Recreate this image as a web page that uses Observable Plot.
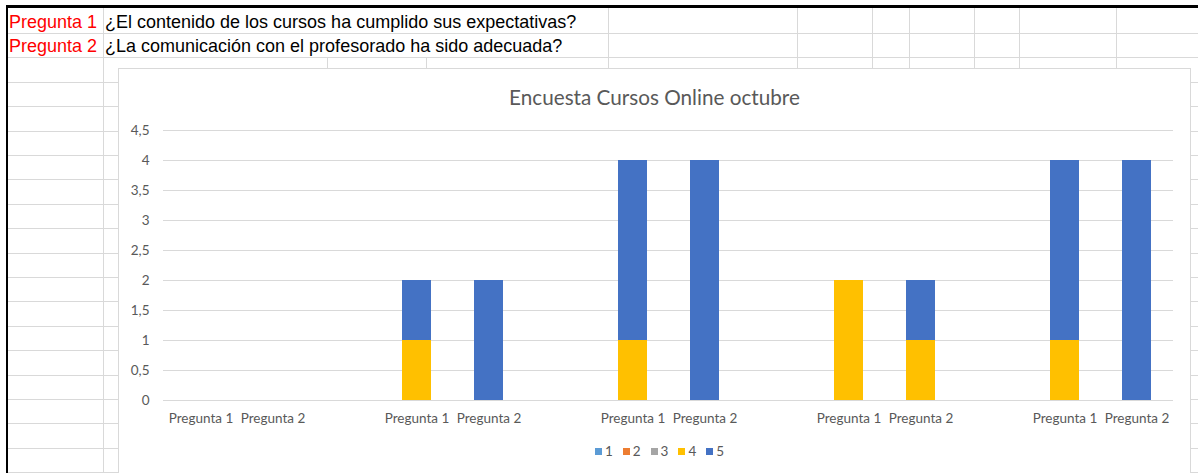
<!DOCTYPE html>
<html>
<head>
<meta charset="utf-8">
<script src="https://cdn.jsdelivr.net/npm/d3@7"></script>
<script src="https://cdn.jsdelivr.net/npm/@observablehq/plot@0.6"></script>
<style>
  html, body { margin: 0; padding: 0; background: #fff; width: 1198px; height: 473px; overflow: hidden; position: relative; }
  .gl { position: absolute; background: #d9d9d9; }
  .hdr { position: absolute; font-family: "Liberation Sans", Arial, sans-serif; font-size: 18px; white-space: nowrap; line-height: 1; transform-origin: left top; transform: scaleY(1.06); }
  #box { position: absolute; left: 118px; top: 68px; width: 1073px; height: 420px; background: #fff; border: 1px solid #d9d9d9; box-sizing: border-box; }
  #title { position: absolute; left: 0; width: 100%; top: 16px; text-align: center; font-family: Lato, "Open Sans", sans-serif; font-size: 20.7px; color: #595959; }
  #chart { position: absolute; left: 0; top: 52px; }
  #legend { position: absolute; top: 374px; left: 0; width: 100%; display: flex; justify-content: center; gap: 10px; font-family: Lato, sans-serif; font-size: 13.5px; color: #595959; margin-left: 5px; }
  #legend span.sw { display: inline-block; width: 7px; height: 7px; margin-right: 3px; }
</style>
</head>
<body>
<div id="grid"></div>
<div class="hdr" style="left:9px; top:12px; color:#ff0000;">Pregunta 1</div>
<div class="hdr" style="left:105px; top:12px; color:#000;">¿El contenido de los cursos ha cumplido sus expectativas?</div>
<div class="hdr" style="left:9px; top:36px; color:#ff0000;">Pregunta 2</div>
<div class="hdr" style="left:105px; top:36px; color:#000;">¿La comunicación con el profesorado ha sido adecuada?</div>
<div id="box">
  <div id="title">Encuesta Cursos Online octubre</div>
  <div id="chart"></div>
  <div id="legend"></div>
</div>
<script>
// ---- data ----
const title = "Encuesta Cursos Online octubre";
const groups = ["A", "B", "C", "D", "E"];
const preguntas = ["Pregunta 1", "Pregunta 2"];
const answers = ["1", "2", "3", "4", "5"];
const answerColors = ["#5B9BD5", "#ED7D31", "#A5A5A5", "#FFC000", "#4472C4"];
// values per bar, order: A-P1, A-P2, B-P1, B-P2, ..., E-P2
const ans1 = [0, 0, 0, 0, 0, 0, 0, 0, 0, 0];
const ans2 = [0, 0, 0, 0, 0, 0, 0, 0, 0, 0];
const ans3 = [0, 0, 0, 0, 0, 0, 0, 0, 0, 0];
const ans4 = [0, 0, 1, 0, 1, 0, 2, 1, 1, 0];
const ans5 = [0, 0, 1, 2, 3, 4, 0, 1, 3, 4];
const yTicks = [0, 0.5, 1, 1.5, 2, 2.5, 3, 3.5, 4, 4.5];

// ---- spreadsheet grid background ----
const grid = document.getElementById("grid");
function line(x, y, w, h, color) {
  const d = document.createElement("div");
  d.className = "gl";
  d.style.left = x + "px"; d.style.top = y + "px";
  d.style.width = w + "px"; d.style.height = h + "px";
  if (color) d.style.background = color;
  grid.appendChild(d);
}
for (let k = 0; k < 20; k++) line(8, Math.round(33 + 24.4 * k), 1190, 1);
line(103, 8, 1, 470);
[608, 797, 872, 909, 974, 1019, 1116].forEach(x => line(x, 8, 1, 60));
[327, 426].forEach(x => line(x, 57, 1, 12));
line(6, 5, 1192, 3, "#000");
line(6, 5, 2, 470, "#000");

// ---- build table ----
const keys = [];
groups.forEach((g, gi) => {
  preguntas.forEach((p, pi) => keys.push(g + "|" + pi));
  if (gi < groups.length - 1) keys.push(g + "|gap");
});
const series = [ans1, ans2, ans3, ans4, ans5];
const rows = [];
answers.forEach((a, ai) => {
  let i = 0;
  groups.forEach(g => preguntas.forEach((p, pi) => {
    rows.push({ key: g + "|" + pi, answer: a, value: series[ai][i] });
    i++;
  }));
});
const labelOf = k => { const s = k.split("|")[1]; return s === "gap" ? "" : preguntas[+s]; };
const fmt = d => String(d).replace(".", ",");

const chart = Plot.plot({
  width: 1068,
  height: 314,
  marginLeft: 44,
  marginRight: 14,
  marginTop: 9,
  marginBottom: 35,
  style: { fontFamily: "Lato, 'Open Sans', sans-serif", fontSize: "13.5px", color: "#595959", background: "transparent" },
  x: { domain: keys, paddingInner: 0.6, paddingOuter: 0.3, label: null },
  y: { domain: [0, 4.5], label: null },
  color: { domain: answers, range: answerColors },
  marks: [
    Plot.gridY(yTicks, { stroke: "#d9d9d9", strokeOpacity: 1 }),
    Plot.ruleY([0], { stroke: "#d9d9d9", strokeWidth: 1.2 }),
    Plot.barY(rows, { x: "key", y: "value", fill: "answer", order: answers }),
    Plot.axisY(yTicks, { tickSize: 0, tickPadding: 14, tickFormat: fmt, fill: "#595959", fontSize: 13.5 }),
    Plot.axisX({ tickSize: 0, tickPadding: 13, tickFormat: labelOf, fill: "#595959", fontSize: 13.5 })
  ]
});
document.getElementById("chart").appendChild(chart);

const legend = document.getElementById("legend");
const cs = chart.scale("color");
answers.forEach((a, i) => {
  const it = document.createElement("span");
  it.style.display = "inline-flex"; it.style.alignItems = "center";
  const sw = document.createElement("span");
  sw.className = "sw"; sw.style.background = cs.range[i];
  it.appendChild(sw);
  it.appendChild(document.createTextNode(a));
  legend.appendChild(it);
});
</script>
</body>
</html>
